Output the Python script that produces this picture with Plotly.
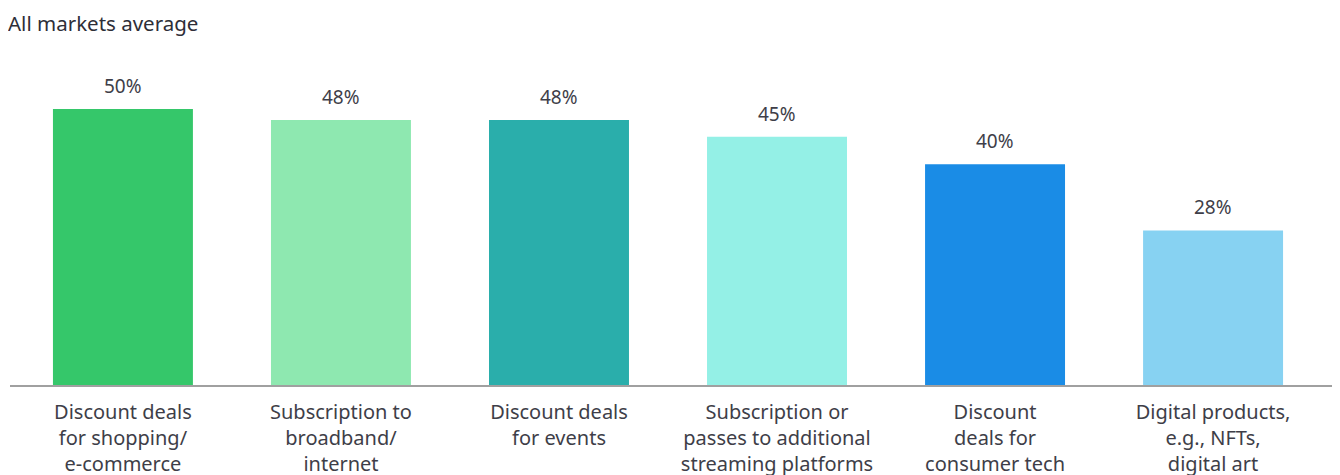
import plotly.graph_objects as go

categories = [
    "Discount deals<br>for shopping/<br>e-commerce",
    "Subscription to<br>broadband/<br>internet",
    "Discount deals<br>for events",
    "Subscription or<br>passes to additional<br>streaming platforms",
    "Discount<br>deals for<br>consumer tech",
    "Digital products,<br>e.g., NFTs,<br>digital art",
]
values = [50, 48, 48, 45, 40, 28]
value_labels = ["50%", "48%", "48%", "45%", "40%", "28%"]
colors = ["#35C76A", "#8EE8B0", "#2AAEAB", "#94F0E6", "#1A8CE6", "#87D2F2"]

xs = list(range(len(categories)))

fig = go.Figure(
    go.Bar(
        x=xs,
        y=values,
        marker=dict(color=colors, line=dict(width=0)),
        width=0.642,
        hoverinfo="skip",
    )
)

for xi, v, lab in zip(xs, values, value_labels):
    fig.add_annotation(
        x=xi, y=v, xref="x", yref="y",
        text=lab, showarrow=False,
        yshift=23, yanchor="middle",
        font=dict(size=19, color="#3e3e48", family="Noto Sans"),
    )

fig.update_layout(
    width=1340,
    height=475,
    margin=dict(l=2, r=10, t=42, b=98),
    paper_bgcolor="white",
    plot_bgcolor="white",
    showlegend=False,
    font=dict(family="Noto Sans", color="#3a3a44"),
    title=dict(
        text="All markets average",
        x=0.0,
        xanchor="left",
        xref="container",
        y=1 - 16 / 475,
        yanchor="middle",
        font=dict(size=20.5, color="#2e2e38", family="Noto Sans"),
    ),
)

fig.update_xaxes(
    tickmode="array",
    tickvals=xs,
    ticktext=categories,
    range=[-0.518, 5.573],
    showline=True,
    linecolor="#a0a0a0",
    linewidth=2,
    showgrid=False,
    ticks="",
    ticklabelstandoff=8,
    tickfont=dict(size=20, color="#3e3e48", family="Noto Sans"),
    fixedrange=True,
)
fig.update_yaxes(
    range=[0, 60.7],
    visible=False,
    showgrid=False,
    zeroline=False,
    fixedrange=True,
)

fig.write_html("out.html")
